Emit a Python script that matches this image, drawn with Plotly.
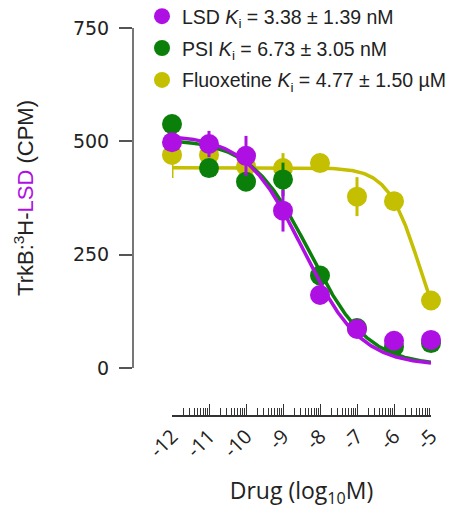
import numpy as np
import plotly.graph_objects as go

# ---------------- data ----------------
log_conc = [-12, -11, -10, -9, -8, -7, -6, -5]
x_tick_labels = ["-12", "-11", "-10", "-9", "-8", "-7", "-6", "-5"]
y_tick_vals = [0, 250, 500, 750]
y_tick_labels = ["0", "250", "500", "750"]

lsd_mean = [498, 494, 468, 347, 161, 86, 60, 62]
lsd_err = [10, 29, 44, 46, 12, 10, 8, 8]
psi_mean = [538, 441, 411, 416, 204, 88, 47, 55]
psi_err = [10, 10, 12, 37, 12, 10, 8, 8]
flx_mean = [470, 470, 445, 441, 452, 378, 368, 149]
flx_err = [51, 10, 10, 33, 10, 43, 10, 10]

# sigmoidal fit parameters: top, bottom, logIC50, hill slope
lsd_fit = (515, 5, -8.45, 0.56)
psi_fit = (505, 5, -8.28, 0.55)
flx_fit = (442, 0, -5.30, 1.0)

names = {
    "lsd": "LSD <i>K</i><sub>i</sub> = 3.38 ± 1.39 nM",
    "psi": "PSI <i>K</i><sub>i</sub> = 6.73 ± 3.05 nM",
    "flx": "Fluoxetine <i>K</i><sub>i</sub> = 4.77 ± 1.50 µM",
}
colors = {"lsd": "#AE10E4", "psi": "#0A800A", "flx": "#C4BF00"}


def logistic(x, p):
    top, bottom, x0, h = p
    return bottom + (top - bottom) / (1 + 10 ** ((x - x0) * h))


x_fit = np.linspace(log_conc[0], log_conc[-1], 300)

fig = go.Figure()
series = [
    ("flx", flx_mean, flx_err, flx_fit, 3),
    ("psi", psi_mean, psi_err, psi_fit, 2),
    ("lsd", lsd_mean, lsd_err, lsd_fit, 1),
]
for key, mean, err, fit, rank in series:
    c = colors[key]
    fig.add_trace(go.Scatter(
        x=x_fit, y=logistic(x_fit, fit), mode="lines",
        line=dict(color=c, width=3.5), showlegend=False, hoverinfo="skip",
    ))
    fig.add_trace(go.Scatter(
        x=log_conc, y=mean, mode="markers", name=names[key],
        marker=dict(color=c, size=20, line=dict(width=0)),
        error_y=dict(type="data", array=err, visible=True, color=c,
                     thickness=3, width=0),
        cliponaxis=False, legendrank=rank, legendgroup=key,
    ))

# ---------------- layout ----------------
W, H = 465, 512
L, R, T, B = 133, 5, 0, 96
pw, ph = W - L - R, H - T - B
x_px0, x_px1 = 172, 431          # pixel columns of -12 and -5
y_px_zero, y_px_top = 368, 28    # pixel rows of 0 and 750
x_line_px = 416                  # pixel row of the x axis line
x_line_pos = (H - B - x_line_px) / ph

minor_vals = [d + np.log10(k) for d in range(-12, -5) for k in range(2, 10)]

tick_font = dict(family="DejaVu Sans, Liberation Sans, Arial", size=19, color="#222")

fig.update_layout(
    width=W, height=H,
    margin=dict(l=L, r=R, t=T, b=B, pad=0, autoexpand=False),
    paper_bgcolor="white", plot_bgcolor="rgba(0,0,0,0)",
    showlegend=True,
    legend=dict(
        x=(142 - L) / pw, y=1 + 3 / ph, xanchor="left", yanchor="top",
        font=dict(family="Liberation Sans, Arial", size=19.5, color="#222"),
        bgcolor="rgba(0,0,0,0)", traceorder="grouped", tracegroupgap=3.5,
        itemclick=False,
    ),
    xaxis=dict(
        domain=[(x_px0 - L) / pw, (x_px1 - L) / pw],
        range=[log_conc[0], log_conc[-1]],
        anchor="free", position=x_line_pos,
        showline=True, linecolor="#333", linewidth=1.5,
        showgrid=False, zeroline=False,
        tickmode="array", tickvals=log_conc, ticktext=x_tick_labels,
        ticks="inside", ticklen=11, tickwidth=1.3, tickcolor="#333",
        tickangle=-45,
        tickfont=dict(family="Open Sans, Noto Sans", size=20, color="#222"),
        minor=dict(tickmode="array", tickvals=minor_vals, ticks="inside",
                   ticklen=7, tickwidth=1, tickcolor="#333", showgrid=False),
        title=dict(text="Drug (log<sub>10</sub>M)",
                   font=dict(family="Open Sans, Noto Sans", size=23, color="#222"),
                   standoff=20),
    ),
    yaxis=dict(
        domain=[(H - B - y_px_zero) / ph, (H - B - y_px_top) / ph],
        range=[0, 750],
        anchor="free", position=0,
        showline=True, linecolor="#777", linewidth=2,
        showgrid=False, zeroline=False,
        tickmode="array", tickvals=y_tick_vals, ticktext=y_tick_labels,
        ticks="outside", ticklen=13, tickwidth=1.5, tickcolor="#555",
        ticklabelstandoff=6,
        tickfont=tick_font,
        title=dict(text="TrkB:<sup>3</sup>H-<span style='color:#AE10E4'>LSD</span> (CPM)",
                   font=dict(family="Liberation Sans, Arial", size=22, color="#222"),
                   standoff=32),
    ),
    shapes=[dict(type="line", xref="x", yref="paper",
                 x0=log_conc[0], x1=log_conc[-1], y0=x_line_pos, y1=x_line_pos,
                 line=dict(color="#333", width=1.5), layer="above")],
)

fig.write_html("out.html",
               config={"displayModeBar": False},
               post_script="document.body.style.margin='0';document.body.style.overflow='hidden';")
